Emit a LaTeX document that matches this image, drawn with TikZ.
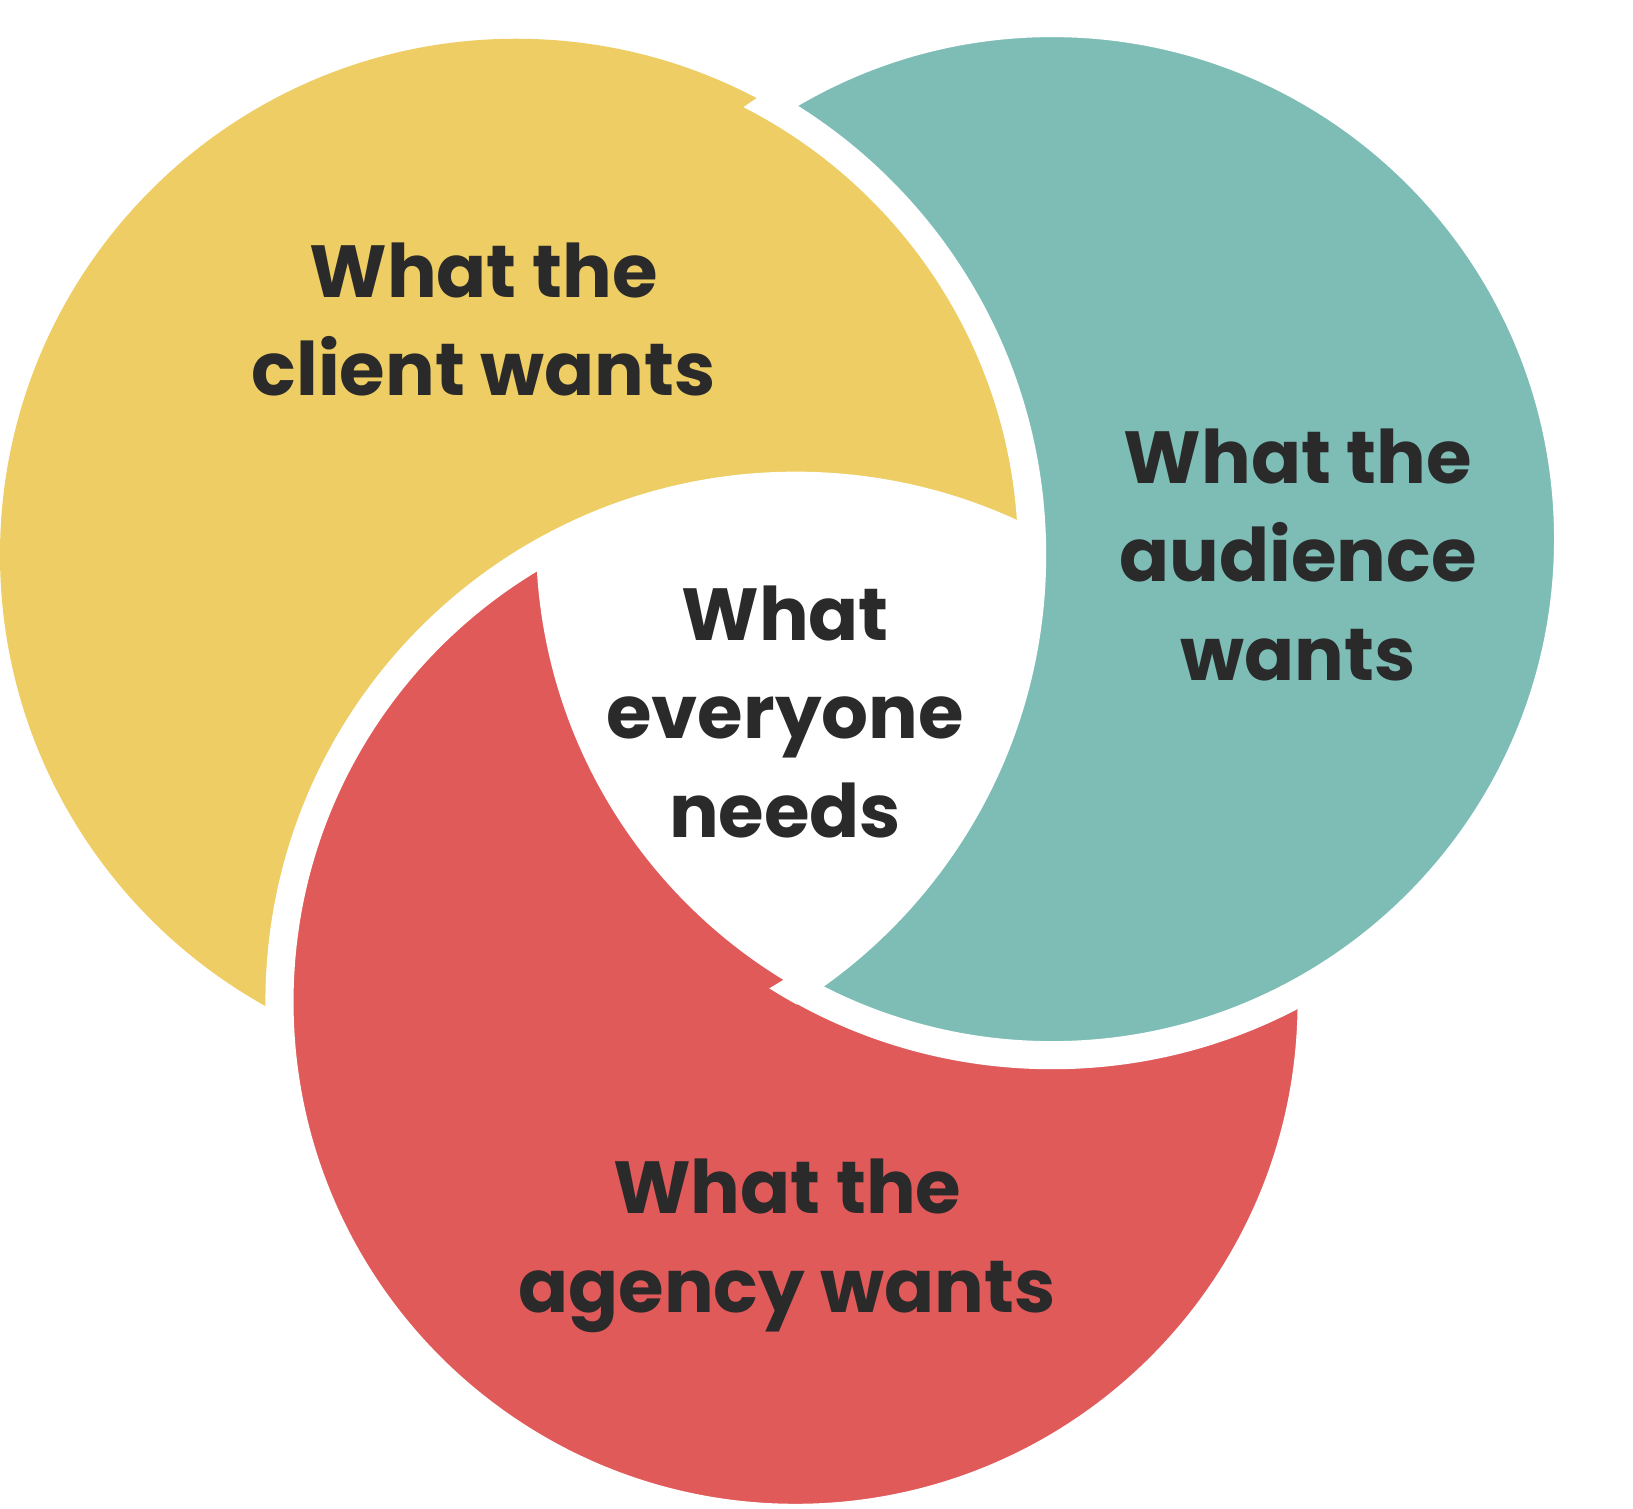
\documentclass[tikz,border=0pt]{standalone}
\usepackage{fontspec}
\setmainfont{Poppins}
\usetikzlibrary{positioning}
\definecolor{clientcol}{HTML}{EDCD64}
\definecolor{audiencecol}{HTML}{7DBDB6}
\definecolor{agencycol}{HTML}{E05A5A}
\definecolor{txtcol}{HTML}{2A2A2A}
\tikzset{
  gap/.style={draw=white,line width=8pt},
  lbl/.style={align=center,text=txtcol,font=\fontsize{21}{28}\selectfont\bfseries}
}
\begin{document}
\begin{tikzpicture}[x=0.01047cm,y=-0.01047cm]
\useasboundingbox (0,0) rectangle (1560,1441);

\coordinate (cY) at (493,530);
\coordinate (cT) at (1005,515);
\coordinate (cR) at (760,957);
\def\rad{493}

\fill[clientcol] (cY) circle (\rad);
\filldraw[fill=agencycol,gap] (cR) circle (\rad);
\begin{scope}[even odd rule]
  \clip (-200,-200) rectangle (1900,1800) (cY) circle (\rad);
  \filldraw[fill=audiencecol,gap,nonzero rule] (cT) circle (\rad);
\end{scope}
\begin{scope}
  \clip (cT) circle (\rad+14);
  \draw[gap] (cY) circle (\rad);
\end{scope}
% middle
\begin{scope}
  \clip (cY) circle (\rad);
  \clip (cT) circle (\rad);
  \fill[white] (cR) circle (\rad);
\end{scope}

\node[lbl] (client)   at (462,305)  {What the\\client wants};
\node[lbl] (audience) at (1240,530) {What the\\audience\\wants};
\node[lbl] (everyone) at (750,680)  {What\\everyone\\needs};
\node[lbl] (agency)   at (752,1190) {What the\\agency wants};
\end{tikzpicture}
\end{document}
